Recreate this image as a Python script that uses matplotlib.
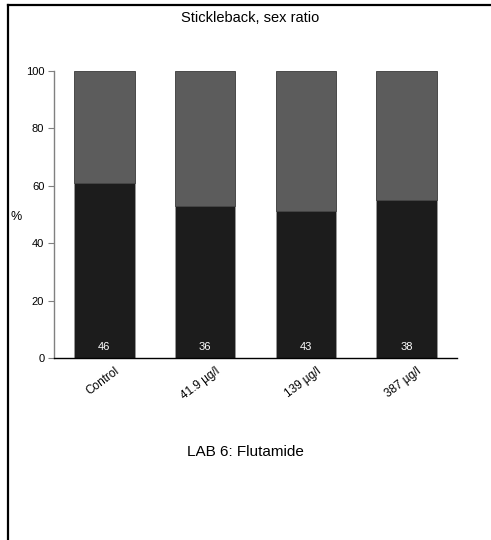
import matplotlib
matplotlib.use("Agg")
import matplotlib.pyplot as plt
import matplotlib.transforms as mtransforms
from matplotlib.lines import Line2D

plt.rcParams['font.family'] = ['Liberation Sans', 'DejaVu Sans']

# 数据
groups = ["Control", "41.9 µg/l", "139 µg/l", "387 µg/l"]
n_fish = [46, 36, 43, 38]
lower_pct = [60.9, 52.8, 51.1, 55.1]
upper_pct = [100 - v for v in lower_pct]

fig = plt.figure(figsize=(4.91, 5.40), dpi=100)
ax = fig.add_axes([54 / 491, 182 / 540, 403 / 491, 287 / 540])

x = list(range(len(groups)))
ax.bar(x, lower_pct, width=0.6, color="#1c1c1c", edgecolor="#9a9a9a", linewidth=0.6)
ax.bar(x, upper_pct, width=0.6, bottom=lower_pct, color="#5c5c5c",
       edgecolor="#3a3a3a", linewidth=0.6)

# 样本数
for xi, n in zip(x, n_fish):
    ax.text(xi, 2.0, str(n), color="white", ha="center", va="bottom", fontsize=8)

ax.set_xlim(-0.5, 3.5)
ax.set_ylim(0, 100)
ax.set_yticks([0, 20, 40, 60, 80, 100])
ax.tick_params(axis="y", labelsize=8, length=4, width=0.8, color="#808080", pad=3)
ax.tick_params(axis="x", length=0, labelsize=8.5, pad=5)
ax.set_xticks(x)
ax.set_xticklabels(groups, rotation=37, ha="right", rotation_mode="anchor")
offset = mtransforms.ScaledTranslation(0.10, 0, fig.dpi_scale_trans)
for lbl in ax.get_xticklabels():
    lbl.set_transform(lbl.get_transform() + offset)

for side in ["top", "right"]:
    ax.spines[side].set_visible(False)
ax.spines["left"].set_color("#808080")
ax.spines["left"].set_linewidth(1.0)
ax.spines["bottom"].set_color("black")
ax.spines["bottom"].set_linewidth(1.0)

ax.text(-0.095, 0.49, "%", transform=ax.transAxes, fontsize=9, ha="center", va="center")

fig.text(250 / 491, 1 - 18 / 540, "Stickleback, sex ratio", ha="center", va="center", fontsize=10.5)
fig.text(245 / 491, 1 - 452 / 540, "LAB 6: Flutamide", ha="center", va="center", fontsize=11)

# 外框
fig.add_artist(Line2D([7.5 / 491, 7.5 / 491], [0, 1 - 4.5 / 540], color="black", linewidth=1.6,
                      transform=fig.transFigure))
fig.add_artist(Line2D([7.5 / 491, 1], [1 - 4.5 / 540, 1 - 4.5 / 540], color="black", linewidth=1.6,
                      transform=fig.transFigure))

fig.savefig("out.png", dpi=100)
